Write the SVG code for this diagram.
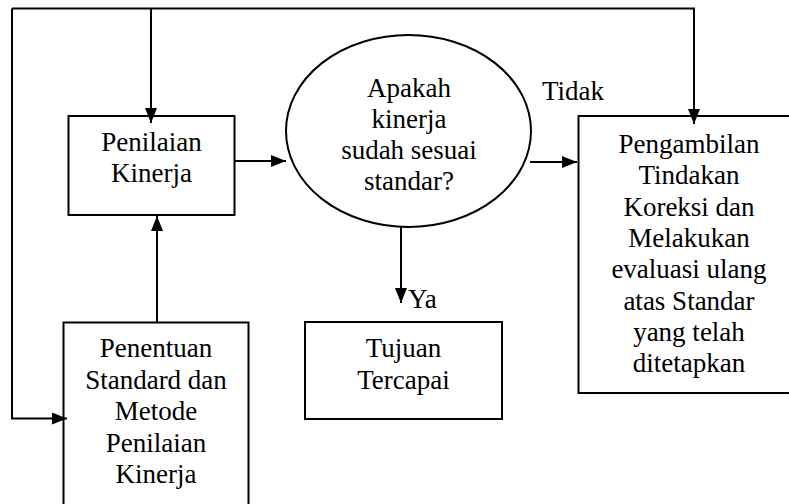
<svg xmlns="http://www.w3.org/2000/svg" width="789" height="504" viewBox="0 0 789 504" font-family="'Liberation Serif', 'DejaVu Serif', serif">
<style>
  .box { fill: #fff; stroke: #000; stroke-width: 2; }
  .conn { fill: none; stroke: #000; stroke-width: 2; }
  text { font-family: 'Liberation Serif', 'DejaVu Serif', serif; font-size: 27px; fill: #000; }
  .c { text-anchor: middle; }
</style>
<defs>
  <marker id="ah" markerUnits="userSpaceOnUse" markerWidth="15" markerHeight="12" refX="15" refY="6" orient="auto">
    <path d="M0,0 L15,6 L0,12 z" fill="#000"/>
  </marker>
</defs>
<rect width="789" height="504" fill="#fff"/>

<g id="n-penilaian">
  <rect class="box" x="68.5" y="116" width="166" height="99"/>
  <text class="c" x="151.5" y="151">Penilaian</text>
  <text class="c" x="151.5" y="182">Kinerja</text>
</g>

<g id="n-keputusan">
  <ellipse class="box" cx="408.5" cy="131" rx="122.5" ry="96"/>
  <text class="c" x="409" y="97">Apakah</text>
  <text class="c" x="409" y="128">kinerja</text>
  <text class="c" x="409" y="159">sudah sesuai</text>
  <text class="c" x="409" y="190">standar?</text>
</g>

<g id="n-pengambilan">
  <rect class="box" x="578.5" y="116" width="222" height="277"/>
  <text class="c" x="689" y="153">Pengambilan</text>
  <text class="c" x="689" y="184.3">Tindakan</text>
  <text class="c" x="689" y="215.6">Koreksi dan</text>
  <text class="c" x="689" y="246.9">Melakukan</text>
  <text class="c" x="689" y="278.2">evaluasi ulang</text>
  <text class="c" x="689" y="309.5">atas Standar</text>
  <text class="c" x="689" y="340.8">yang telah</text>
  <text class="c" x="689" y="372.1">ditetapkan</text>
</g>

<g id="n-penentuan">
  <rect class="box" x="63.5" y="322.5" width="185" height="200"/>
  <text class="c" x="156" y="357">Penentuan</text>
  <text class="c" x="156" y="388.5">Standard dan</text>
  <text class="c" x="156" y="420">Metode</text>
  <text class="c" x="156" y="451.5">Penilaian</text>
  <text class="c" x="156" y="483">Kinerja</text>
</g>

<g id="n-tujuan">
  <rect class="box" x="305" y="322" width="197" height="97"/>
  <text class="c" x="403.5" y="357">Tujuan</text>
  <text class="c" x="403.5" y="388.5">Tercapai</text>
</g>

<g id="connectors">
  <path class="conn" d="M12,8.5 L694,8.5 L694,124" marker-end="url(#ah)"/>
  <path class="conn" d="M12,8.5 L12,418.5 L67,418.5" marker-end="url(#ah)"/>
  <path class="conn" d="M151,8.5 L151,123" marker-end="url(#ah)"/>
  <path class="conn" d="M235,161 L286,161" marker-end="url(#ah)"/>
  <path class="conn" d="M530,162 L577,162" marker-end="url(#ah)"/>
  <path class="conn" d="M157,322 L157,216" marker-end="url(#ah)"/>
  <path class="conn" d="M401,227 L401,303" marker-end="url(#ah)"/>
  <text x="542" y="100">Tidak</text>
  <text x="408" y="307.5">Ya</text>
</g>
</svg>
